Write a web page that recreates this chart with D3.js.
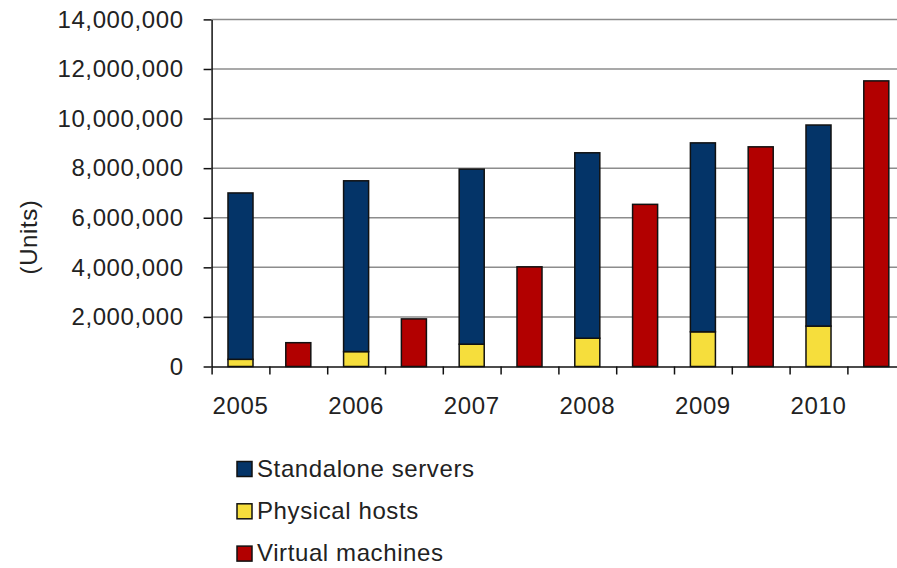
<!DOCTYPE html>
<html>
<head>
<meta charset="utf-8">
<script src="https://cdn.jsdelivr.net/npm/d3@7"></script>
<style>
  body { margin: 0; background: white; }
  text { font-family: "Liberation Sans", Arial, sans-serif; fill: #222; letter-spacing: 0.6px; }
</style>
</head>
<body>
<script>
// Data
const years = ['2005', '2006', '2007', '2008', '2009', '2010'];
const standalone = [6710000, 6890000, 7060000, 7480000, 7620000, 8110000];
const physical = [290000, 600000, 900000, 1140000, 1400000, 1630000];
const virtualMachines = [960000, 1920000, 4020000, 6540000, 8860000, 11520000];
const yTicks = [0, 2000000, 4000000, 6000000, 8000000, 10000000, 12000000, 14000000];
const seriesNames = ['Standalone servers', 'Physical hosts', 'Virtual machines'];
const seriesColors = ['#043468', '#f6de3c', '#b20000'];

let svg = '';

window.onload = function () {
  svg = d3.select('body')
    .append('svg')
    .attr('width', 897)
    .attr('height', 568);
  drawPlot();
}

function drawPlot() {
  // two slots per year: stacked bar, then virtual machines bar
  let slots = [];
  years.forEach((y) => { slots.push(y + '-s'); slots.push(y + '-v'); });

  let left = 211.6, right = 905.2, top = 19.4, bottom = 366.5;

  let x = d3.scaleBand()
    .domain(slots)
    .range([left, right])
    .paddingInner(0.567)
    .paddingOuter(0.2835);

  let xEdge = d3.scaleLinear()
    .domain([0, slots.length])
    .range([left, right]);

  let y = d3.scaleLinear()
    .domain([0, 14000000])
    .range([bottom, top]);

  // gridlines
  svg.append('g')
    .selectAll('line')
    .data(yTicks.slice(1))
    .enter()
    .append('line')
    .attr('x1', left)
    .attr('x2', 897)
    .attr('y1', (d) => y(d))
    .attr('y2', (d) => y(d))
    .attr('stroke', '#8c8c8c')
    .attr('stroke-width', 1.5);

  // stacked bars
  let stackRows = years.map((yr, i) => ({ year: yr, physical: physical[i], standalone: standalone[i] }));
  let stacked = d3.stack().keys(['physical', 'standalone'])(stackRows);
  let stackColor = { physical: seriesColors[1], standalone: seriesColors[0] };

  stacked.forEach((layer) => {
    svg.append('g')
      .selectAll('rect')
      .data(layer)
      .enter()
      .append('rect')
      .attr('x', (d) => x(d.data.year + '-s'))
      .attr('y', (d) => y(d[1]))
      .attr('width', x.bandwidth())
      .attr('height', (d) => y(d[0]) - y(d[1]))
      .attr('fill', stackColor[layer.key])
      .attr('stroke', '#111')
      .attr('stroke-width', 1.5);
  });

  // virtual machines
  svg.append('g')
    .selectAll('rect')
    .data(virtualMachines)
    .enter()
    .append('rect')
    .attr('x', (d, i) => x(years[i] + '-v'))
    .attr('y', (d) => y(d))
    .attr('width', x.bandwidth())
    .attr('height', (d) => bottom - y(d))
    .attr('fill', seriesColors[2])
    .attr('stroke', '#111')
    .attr('stroke-width', 1.5);

  // y axis
  let yAxis = d3.axisLeft(y)
    .tickValues(yTicks)
    .tickFormat(d3.format(','))
    .tickSizeInner(8)
    .tickSizeOuter(0)
    .tickPadding(20);
  let gy = svg.append('g')
    .attr('transform', 'translate(' + left + ', 0)')
    .call(yAxis);
  gy.select('.domain').attr('stroke', '#111').attr('stroke-width', 1.5);
  gy.selectAll('.tick line').attr('stroke', '#111').attr('stroke-width', 1.5);
  gy.selectAll('text').style('font-size', '24px').attr('fill', '#222');

  // x axis: tick marks between slots
  let xTickAxis = d3.axisBottom(xEdge)
    .ticks(slots.length)
    .tickFormat('')
    .tickSizeInner(8)
    .tickSizeOuter(0);
  let gx = svg.append('g')
    .attr('transform', 'translate(0, ' + bottom + ')')
    .call(xTickAxis);
  gx.select('.domain').attr('stroke', '#111').attr('stroke-width', 1.5);
  gx.selectAll('.tick line').attr('stroke', '#111').attr('stroke-width', 1.5);

  // x axis: year labels under the stacked bars
  let xLabelAxis = d3.axisBottom(x)
    .tickValues(years.map((yr) => yr + '-s'))
    .tickFormat((d) => d.slice(0, 4))
    .tickSize(0)
    .tickPadding(30);
  let gl = svg.append('g')
    .attr('transform', 'translate(0, ' + bottom + ')')
    .call(xLabelAxis);
  gl.select('.domain').remove();
  gl.selectAll('text').style('font-size', '24px').attr('fill', '#222');

  // y axis title
  svg.append('text')
    .attr('transform', 'translate(37, 237)rotate(-90)')
    .attr('text-anchor', 'middle')
    .style('font-size', '24px')
    .text('(Units)');

  // legend
  let legend = svg.append('g')
    .selectAll('g')
    .data(seriesNames)
    .enter()
    .append('g')
    .attr('transform', (d, i) => 'translate(237, ' + (476.5 + i * 42.3) + ')');

  legend.append('rect')
    .attr('x', 0)
    .attr('y', -15)
    .attr('width', 15)
    .attr('height', 15)
    .attr('fill', (d, i) => seriesColors[i])
    .attr('stroke', '#111')
    .attr('stroke-width', 1.5);

  legend.append('text')
    .attr('x', 20)
    .attr('y', 0)
    .style('font-size', '24px')
    .text((d) => d);
}
</script>
</body>
</html>
